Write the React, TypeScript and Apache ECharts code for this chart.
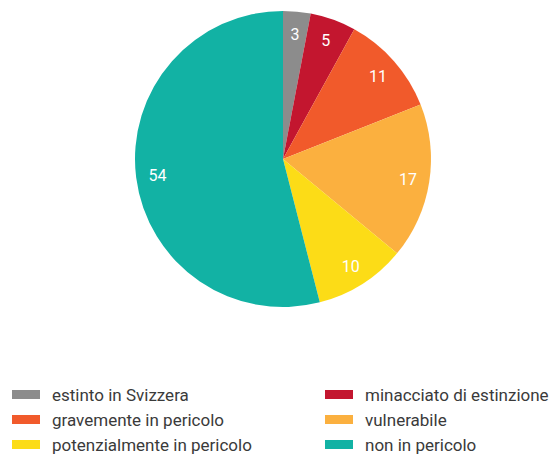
import React, { useEffect, useRef } from "react";
import * as echarts from "echarts";

const categories = [
  "estinto in Svizzera",
  "minacciato di estinzione",
  "gravemente in pericolo",
  "vulnerabile",
  "potenzialmente in pericolo",
  "non in pericolo",
];
const values = [3, 5, 11, 17, 10, 54];
const colors = ["#8c8c8c", "#c3162f", "#f15a2b", "#fbb03f", "#fcdc17", "#12b2a4"];
const leftLegend = [categories[0], categories[2], categories[4]];
const rightLegend = [categories[1], categories[3], categories[5]];

const FONT = "'Roboto', sans-serif";

export default function App() {
  const ref = useRef<HTMLDivElement>(null);
  useEffect(() => {
    if (!ref.current) return;
    const chart = echarts.init(ref.current, null, { renderer: "svg" });
    const data = categories.map((name, i) => ({ name, value: values[i], itemStyle: { color: colors[i] } }));
    const legendCommon = {
      orient: "vertical" as const,
      top: 385.5,
      padding: 0,
      icon: "rect",
      itemWidth: 28,
      itemHeight: 9,
      itemGap: 7,
      selectedMode: false,
      textStyle: { fontFamily: FONT, fontSize: 17, color: "#3a3a3a", lineHeight: 18, padding: [0, 0, 0, 7] },
    };
    chart.setOption({
      animation: false,
      color: colors,
      legend: [
        { ...legendCommon, left: 12, data: leftLegend },
        { ...legendCommon, left: 325, data: rightLegend },
      ],
      series: [
        {
          type: "pie",
          center: [283, 159],
          radius: [0, 148],
          startAngle: 90,
          clockwise: true,
          label: { show: false },
          labelLine: { show: false },
          emphasis: { disabled: true },
          data,
        },
        {
          type: "pie",
          center: [283, 160],
          radius: [99, 148],
          startAngle: 90,
          clockwise: true,
          silent: true,
          legendHoverLink: false,
          label: {
            show: true,
            position: "inside",
            formatter: "{c}",
            color: "#ffffff",
            fontFamily: FONT,
            fontSize: 16,
          },
          labelLine: { show: false },
          emphasis: { disabled: true },
          data: categories.map((name, i) => ({ name: name + " ", value: values[i], itemStyle: { color: "rgba(0,0,0,0)" } })),
        },
      ],
    });
    return () => chart.dispose();
  }, []);
  return <div ref={ref} style={{ position: "absolute", left: 0, top: 0, width: 553, height: 466 }} />;
}
